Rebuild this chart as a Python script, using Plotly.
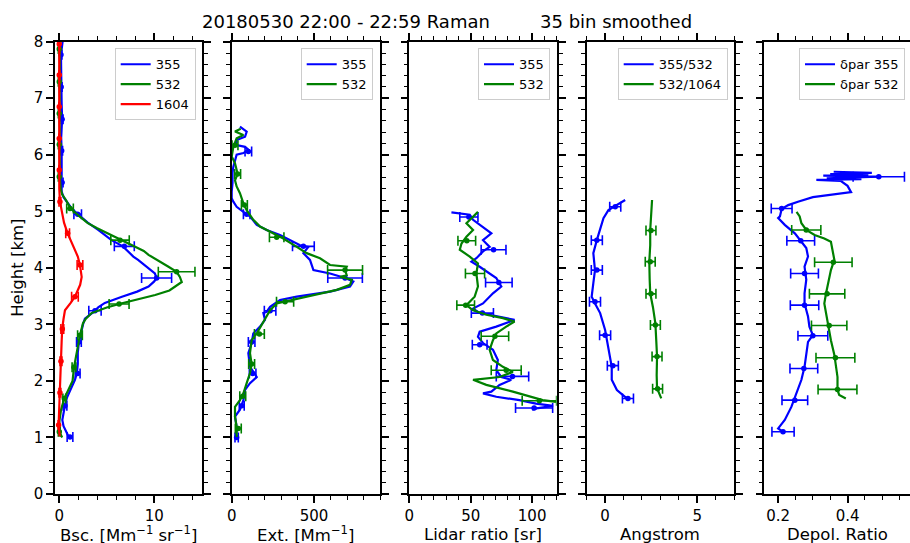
import plotly.graph_objects as go

W, H = 910, 543
BLUE, GREEN, RED = "#0000ff", "#008000", "#ff0000"
FONT = "DejaVu Sans"

# ---------------- Data ----------------
# Panel 1: backscatter [Mm-1 sr-1]
bsc355_h = [8.0, 7.77, 7.5, 7.2, 6.9, 6.63, 6.3, 6.07, 5.8, 5.51, 5.35, 5.25, 5.16, 5.05, 4.95, 4.8, 4.67, 4.49, 4.38, 4.2, 4.14, 4.0, 3.9, 3.82, 3.76, 3.67, 3.58, 3.49, 3.38, 3.3, 3.24, 3.1, 3.0, 2.85, 2.69, 2.5, 2.3, 2.14, 2.02, 1.85, 1.7, 1.57, 1.45, 1.31, 1.2, 1.1, 1.01]
bsc355_v = [0.35, 0.18, 0.2, 0.2, 0.25, 0.3, 0.2, 0.25, 0.25, 0.3, 0.25, 0.45, 0.8, 1.3, 1.94, 3.0, 4.1, 5.5, 6.7, 7.8, 8.3, 9.3, 10.07, 10.25, 10.0, 9.4, 8.2, 6.6, 4.8, 4.1, 3.76, 2.7, 2.5, 2.3, 2.07, 1.95, 1.95, 1.85, 1.65, 1.2, 0.8, 0.6, 0.45, 0.32, 0.45, 0.7, 1.0]
bsc355_eh = [7.77, 7.2, 6.63, 6.07, 5.51, 4.95, 4.38, 3.82, 3.24, 2.69, 2.13, 1.56, 1.01]
bsc355_ev = [0.18, 0.2, 0.3, 0.25, 0.3, 1.94, 6.85, 10.25, 3.76, 2.07, 1.94, 0.6, 1.13]
bsc355_ee = [0.1, 0.1, 0.1, 0.1, 0.1, 0.4, 1.05, 1.58, 0.65, 0.25, 0.25, 0.2, 0.3]

bsc532_h = [8.0, 7.87, 7.6, 7.29, 7.0, 6.73, 6.45, 6.18, 5.9, 5.61, 5.4, 5.3, 5.2, 5.05, 4.9, 4.79, 4.7, 4.49, 4.3, 4.23, 4.1, 4.02, 3.93, 3.84, 3.75, 3.7, 3.6, 3.52, 3.45, 3.37, 3.3, 3.2, 3.1, 3.02, 2.81, 2.5, 2.24, 2.0, 1.85, 1.69, 1.5, 1.3, 1.11, 1.0]
bsc532_v = [0.1, 0.0, 0.05, 0.0, 0.05, 0.0, 0.05, 0.0, 0.05, 0.05, 0.15, 0.3, 0.7, 1.2, 2.2, 3.0, 4.0, 6.5, 8.9, 9.4, 10.8, 11.5, 12.36, 12.7, 12.9, 12.5, 11.6, 10.1, 8.3, 6.5, 5.0, 3.4, 2.8, 2.5, 2.18, 1.85, 1.55, 1.4, 1.0, 0.53, 0.2, 0.02, 0.0, 0.3]
bsc532_eh = [7.87, 7.29, 6.73, 6.18, 5.61, 5.05, 4.49, 3.93, 3.36, 2.81, 2.24, 1.69, 1.1]
bsc532_ev = [0.0, 0.0, 0.0, 0.0, 0.0, 1.13, 6.4, 12.36, 6.3, 2.18, 1.55, 0.53, 0.0]
bsc532_ee = [0.1, 0.1, 0.1, 0.1, 0.1, 0.35, 0.97, 1.93, 1.05, 0.25, 0.2, 0.15, 0.1]

bsc1604_h = [8.0, 7.7, 7.41, 7.1, 6.85, 6.5, 6.29, 6.0, 5.73, 5.4, 5.17, 5.0, 4.8, 4.61, 4.45, 4.32, 4.2, 4.05, 3.9, 3.84, 3.7, 3.6, 3.49, 3.38, 3.25, 3.1, 2.94, 2.7, 2.35, 2.0, 1.79, 1.5, 1.22, 1.02]
bsc1604_v = [0.0, 0.0, 0.0, 0.0, 0.0, 0.0, -0.05, 0.0, 0.0, 0.0, 0.07, 0.25, 0.5, 0.88, 1.3, 1.65, 1.95, 2.18, 2.3, 2.36, 2.2, 1.95, 1.65, 1.2, 0.6, 0.45, 0.32, 0.25, 0.18, 0.12, 0.07, 0.0, -0.07, 0.05]
bsc1604_eh = [7.96, 7.41, 6.85, 6.29, 5.73, 5.17, 4.61, 4.05, 3.49, 2.92, 2.35, 1.79, 1.22]
bsc1604_ev = [0.0, 0.0, 0.0, 0.0, 0.0, 0.07, 0.88, 2.18, 1.65, 0.32, 0.18, 0.07, -0.07]
bsc1604_ee = [0.05, 0.05, 0.05, 0.05, 0.05, 0.1, 0.2, 0.3, 0.35, 0.15, 0.1, 0.1, 0.05]

# Panel 2: extinction [Mm-1]
ext355_h = [6.5, 6.41, 6.32, 6.26, 6.17, 6.14, 6.09, 6.03, 6.0, 5.91, 5.79, 5.68, 5.5, 5.35, 5.23, 5.17, 5.08, 4.97, 4.91, 4.76, 4.67, 4.58, 4.49, 4.40, 4.37, 4.26, 4.14, 3.96, 3.9, 3.82, 3.76, 3.67, 3.58, 3.49, 3.43, 3.31, 3.22, 3.2, 3.08, 2.96, 2.84, 2.67, 2.49, 2.25, 2.07, 1.96, 1.84, 1.66, 1.49, 1.37, 1.19, 0.99]
ext355_v = [50, 91, 81, 30, 30, 81, 101, 71, 30, 20, 10, 5, 5, 0, 0, 10, 30, 81, 111, 152, 212, 293, 354, 415, 465, 435, 475, 496, 597, 688, 738, 718, 597, 395, 293, 233, 212, 192, 202, 172, 131, 121, 101, 111, 152, 111, 81, 71, 50, 20, 30, 26]
ext355_eh = [6.06, 4.95, 4.38, 3.82, 3.24, 2.69, 2.13, 1.56, 1.0]
ext355_ev = [101, 91, 435, 688, 233, 121, 127, 61, 30]
ext355_ee = [20, 20, 66, 105, 35, 20, 20, 15, 10]

ext532_h = [6.46, 6.41, 6.35, 6.29, 6.14, 5.97, 5.85, 5.73, 5.66, 5.55, 5.44, 5.32, 5.14, 5.02, 4.85, 4.73, 4.61, 4.52, 4.37, 4.26, 4.17, 4.05, 4.02, 3.96, 3.87, 3.84, 3.79, 3.7, 3.61, 3.52, 3.43, 3.37, 3.25, 3.14, 2.99, 2.84, 2.72, 2.49, 2.3, 2.14, 1.96, 1.78, 1.66, 1.54, 1.37, 1.19, 1.01]
ext532_v = [55, 20, 71, 30, 10, 0, 20, 30, 36, 20, 30, 50, 71, 91, 131, 172, 253, 313, 395, 455, 536, 597, 698, 688, 698, 658, 729, 718, 638, 496, 354, 273, 233, 212, 182, 152, 121, 111, 121, 111, 91, 71, 50, 20, 20, 30, 30]
ext532_eh = [6.17, 5.66, 5.11, 4.54, 3.96, 3.4, 2.83, 2.3, 1.73, 1.16]
ext532_ev = [20, 36, 77, 273, 688, 324, 168, 121, 67, 40]
ext532_ee = [18, 18, 18, 44, 106, 52, 30, 18, 18, 18]

# Panel 3: lidar ratio [sr]
lr355_h = [4.98, 4.94, 4.85, 4.67, 4.61, 4.49, 4.37, 4.29, 4.17, 4.11, 4.02, 3.82, 3.67, 3.55, 3.37, 3.28, 3.22, 3.17, 3.08, 2.96, 2.87, 2.78, 2.67, 2.55, 2.37, 2.19, 2.07, 2.02, 1.93, 1.81, 1.78, 1.72, 1.66, 1.6, 1.56, 1.52, 1.49]
lr355_v = [34.3, 49.2, 51.9, 62.7, 66.8, 60, 65.4, 60, 54.6, 50.6, 57.3, 70.8, 74.9, 68.1, 60, 51.9, 55.9, 65.4, 85.7, 70.8, 57.3, 55.9, 60, 68.1, 72.1, 70.8, 74.9, 83, 73.5, 66.8, 60, 70.8, 89.7, 103.2, 117, 105, 100]
lr355_eh = [4.9, 4.32, 3.74, 3.2, 2.64, 2.08, 1.52]
lr355_ev = [48.5, 68.6, 72.9, 59.5, 57.3, 84, 101.6]
lr355_ee = [7.4, 10.1, 10.8, 9, 6, 13.2, 15.1]

lr532_h = [4.99, 4.91, 4.79, 4.67, 4.55, 4.43, 4.32, 4.2, 4.08, 3.9, 3.67, 3.49, 3.34, 3.25, 3.17, 3.11, 3.05, 2.96, 2.84, 2.72, 2.55, 2.37, 2.25, 2.16, 2.07, 2.02, 1.93, 1.81, 1.72, 1.66, 1.63]
lr532_v = [55.9, 51.9, 46.5, 51.9, 46.5, 42.5, 41.1, 49.2, 55.9, 54.6, 55.9, 53.2, 46.5, 51.9, 62.7, 76.2, 85.7, 78.9, 70.8, 68.1, 65.4, 68.1, 76.2, 84.3, 73.5, 51.9, 62.7, 84.3, 97.8, 108.6, 119.4]
lr532_eh = [4.48, 3.9, 3.34, 2.79, 2.19, 1.65]
lr532_ev = [46.8, 53.5, 45.9, 69.7, 78.9, 105.9]
lr532_ee = [7.2, 7.8, 7.2, 11.2, 12.2, 14]

# Panel 4: Angstrom exponent
ang1_h = [5.2, 5.11, 5.02, 4.88, 4.61, 4.49, 4.26, 3.96, 3.73, 3.49, 3.37, 3.2, 2.9, 2.55, 2.25, 2.02, 1.84, 1.69]
ang1_v = [1.09, 0.64, 0.18, -0.09, -0.36, -0.45, -0.64, -0.55, -0.64, -0.73, -0.55, -0.27, 0.0, 0.18, 0.36, 0.36, 0.64, 1.18]
ang1_eh = [5.08, 4.49, 3.96, 3.4, 2.81, 2.27, 1.69]
ang1_ev = [0.55, -0.45, -0.45, -0.55, 0.0, 0.42, 1.24]
ang1_ee = [0.3, 0.3, 0.3, 0.3, 0.3, 0.3, 0.3]

ang2_h = [5.2, 4.9, 4.67, 4.4, 4.11, 3.8, 3.55, 3.3, 3.02, 2.7, 2.43, 2.1, 1.87, 1.69]
ang2_v = [2.55, 2.5, 2.45, 2.45, 2.4, 2.42, 2.45, 2.6, 2.73, 2.78, 2.82, 2.8, 2.82, 3.05]
ang2_eh = [4.66, 4.11, 3.54, 2.99, 2.43, 1.86]
ang2_ev = [2.49, 2.45, 2.49, 2.73, 2.82, 2.85]
ang2_ee = [0.27, 0.27, 0.27, 0.27, 0.27, 0.27]

# Panel 5: particle depolarization ratio
dep355_h = [5.70, 5.68, 5.66, 5.645, 5.63, 5.615, 5.60, 5.585, 5.57, 5.555, 5.54, 5.45, 5.34, 5.29, 5.25, 5.17, 5.11, 5.04, 4.91, 4.88, 4.76, 4.61, 4.46, 4.35, 4.2, 4.02, 3.79, 3.55, 3.37, 3.14, 2.96, 2.81, 2.69, 2.49, 2.25, 2.02, 1.78, 1.54, 1.31, 1.16, 1.1]
dep355_v = [0.36, 0.47, 0.35, 0.46, 0.33, 0.49, 0.42, 0.34, 0.44, 0.31, 0.38, 0.40, 0.41, 0.35, 0.30, 0.257, 0.229, 0.21, 0.205, 0.2, 0.219, 0.248, 0.267, 0.281, 0.286, 0.276, 0.281, 0.276, 0.276, 0.286, 0.29, 0.3, 0.286, 0.281, 0.276, 0.267, 0.253, 0.238, 0.219, 0.2, 0.214]
dep355_eh = [5.61, 5.05, 4.48, 3.9, 3.34, 2.8, 2.22, 1.66, 1.1]
dep355_ev = [0.49, 0.21, 0.265, 0.276, 0.276, 0.3, 0.274, 0.248, 0.214]
dep355_ee = [0.074, 0.03, 0.04, 0.04, 0.041, 0.043, 0.04, 0.037, 0.032]

dep532_h = [4.99, 4.91, 4.79, 4.67, 4.58, 4.52, 4.46, 4.32, 4.14, 3.96, 3.73, 3.55, 3.37, 3.2, 2.99, 2.72, 2.46, 2.25, 2.07, 1.84, 1.75, 1.69]
dep532_v = [0.253, 0.262, 0.267, 0.281, 0.305, 0.333, 0.352, 0.357, 0.362, 0.352, 0.343, 0.338, 0.333, 0.338, 0.343, 0.352, 0.362, 0.367, 0.371, 0.371, 0.376, 0.395]
dep532_eh = [4.67, 4.1, 3.54, 2.98, 2.41, 1.85]
dep532_ev = [0.281, 0.359, 0.341, 0.347, 0.365, 0.371]
dep532_ee = [0.042, 0.054, 0.051, 0.051, 0.056, 0.056]

x_titles = ["Bsc. [Mm<sup>−1</sup> sr<sup>−1</sup>]", "Ext. [Mm<sup>−1</sup>]",
            "Lidar ratio [sr]", "Angstrom", "Depol. Ratio"]
title_left = "20180530 22:00 - 22:59 Raman"
title_right = "35 bin smoothed"

# ---------------- Layout geometry (pixels) ----------------
panels_px = [(55, 201.7), (231.7, 380), (409.3, 556.7), (586.7, 734), (764.3, 910)]
y_top, y_bot = 41.7, 494
x_ranges = [[-0.45, 15], [0, 900], [0, 120], [-1, 7], [0.16, 0.58]]
x_dticks = [10, 500, 50, 5, 0.2]
x_minor = [2, 100, 10, 1, 0.05]

def fx(px):
    return px / W

def fy(py):
    return 1 - py / H

fig = go.Figure()

series = [
    [("355", BLUE, bsc355_h, bsc355_v, bsc355_eh, bsc355_ev, bsc355_ee),
     ("532", GREEN, bsc532_h, bsc532_v, bsc532_eh, bsc532_ev, bsc532_ee),
     ("1604", RED, bsc1604_h, bsc1604_v, bsc1604_eh, bsc1604_ev, bsc1604_ee)],
    [("355", BLUE, ext355_h, ext355_v, ext355_eh, ext355_ev, ext355_ee),
     ("532", GREEN, ext532_h, ext532_v, ext532_eh, ext532_ev, ext532_ee)],
    [("355", BLUE, lr355_h, lr355_v, lr355_eh, lr355_ev, lr355_ee),
     ("532", GREEN, lr532_h, lr532_v, lr532_eh, lr532_ev, lr532_ee)],
    [("355/532", BLUE, ang1_h, ang1_v, ang1_eh, ang1_ev, ang1_ee),
     ("532/1064", GREEN, ang2_h, ang2_v, ang2_eh, ang2_ev, ang2_ee)],
    [("δpar 355", BLUE, dep355_h, dep355_v, dep355_eh, dep355_ev, dep355_ee),
     ("δpar 532", GREEN, dep532_h, dep532_v, dep532_eh, dep532_ev, dep532_ee)],
]

legend_right = [195.7, 372.7, 550, 727.7, 905]

for i, group in enumerate(series):
    n = i + 1
    xa = "x" if n == 1 else f"x{n}"
    ya = "y" if n == 1 else f"y{n}"
    lg = "legend" if n == 1 else f"legend{n}"
    for name, col, h, v, eh, ev, ee in group:
        fig.add_trace(go.Scatter(
            x=v, y=h, mode="lines", name=name, line=dict(color=col, width=2.2),
            xaxis=xa, yaxis=ya, legend=lg, showlegend=True))
        fig.add_trace(go.Scatter(
            x=ev, y=eh, mode="markers", marker=dict(color=col, size=5.5),
            error_x=dict(type="data", array=ee, color=col, thickness=1.6, width=5),
            xaxis=xa, yaxis=ya, showlegend=False))

layout = dict(
    width=W, height=H,
    margin=dict(l=0, r=0, t=0, b=0, pad=0, autoexpand=False),
    paper_bgcolor="white", plot_bgcolor="white",
    font=dict(family=FONT, size=15, color="black"),
    showlegend=True,
    annotations=[],
)

axis_common = dict(
    showline=True, linecolor="black", linewidth=1.6, mirror="ticks",
    ticks="outside", ticklen=7, tickwidth=1.6, tickcolor="black",
    showgrid=False, zeroline=False, fixedrange=True, automargin=False,
    tickfont=dict(family=FONT, size=15, color="black"),
)

for i in range(5):
    n = i + 1
    xk = "xaxis" if n == 1 else f"xaxis{n}"
    yk = "yaxis" if n == 1 else f"yaxis{n}"
    x0, x1 = panels_px[i]
    layout[xk] = dict(
        axis_common, domain=[fx(x0), min(fx(x1), 1.0)], range=x_ranges[i],
        anchor="y" if n == 1 else f"y{n}", tick0=0, dtick=x_dticks[i],
        minor=dict(ticks="outside", ticklen=4, tickwidth=1.2, tickcolor="black",
                   dtick=x_minor[i], tick0=0, showgrid=False),
    )
    layout[yk] = dict(
        axis_common, domain=[fy(y_bot), fy(y_top)], range=[0, 8],
        anchor="x" if n == 1 else f"x{n}", tick0=0, dtick=1,
        showticklabels=(n == 1),
        minor=dict(ticks="outside", ticklen=4, tickwidth=1.2, tickcolor="black",
                   dtick=0.2, tick0=0, showgrid=False),
    )
    lg = "legend" if n == 1 else f"legend{n}"
    layout[lg] = dict(
        x=fx(legend_right[i]), y=fy(48.3), xanchor="right", yanchor="top",
        bgcolor="rgba(255,255,255,0.8)", bordercolor="#cccccc", borderwidth=1,
        font=dict(family=FONT, size=13, color="black"), tracegroupgap=0,
    )
    layout["annotations"].append(dict(
        text=x_titles[i], x=fx((x0 + x1) / 2), y=fy(534), xref="paper", yref="paper",
        xanchor="center", yanchor="middle", showarrow=False,
        font=dict(family=FONT, size=16.5, color="black")))

layout["annotations"].append(dict(
    text="Height [km]", x=fx(18), y=fy((y_top + y_bot) / 2), xref="paper", yref="paper",
    xanchor="center", yanchor="middle", textangle=-90, showarrow=False,
    font=dict(family=FONT, size=16.5, color="black")))
layout["annotations"].append(dict(
    text=title_left, x=fx(200), y=fy(21), xref="paper", yref="paper",
    xanchor="left", yanchor="middle", showarrow=False,
    font=dict(family=FONT, size=18, color="black")))
layout["annotations"].append(dict(
    text=title_right, x=fx(538), y=fy(21), xref="paper", yref="paper",
    xanchor="left", yanchor="middle", showarrow=False,
    font=dict(family=FONT, size=18, color="black")))

fig.update_layout(**layout)
fig.write_html("out.html", config={"displayModeBar": False},
               post_script="document.body.style.margin='0px';document.body.style.overflow='hidden';")
